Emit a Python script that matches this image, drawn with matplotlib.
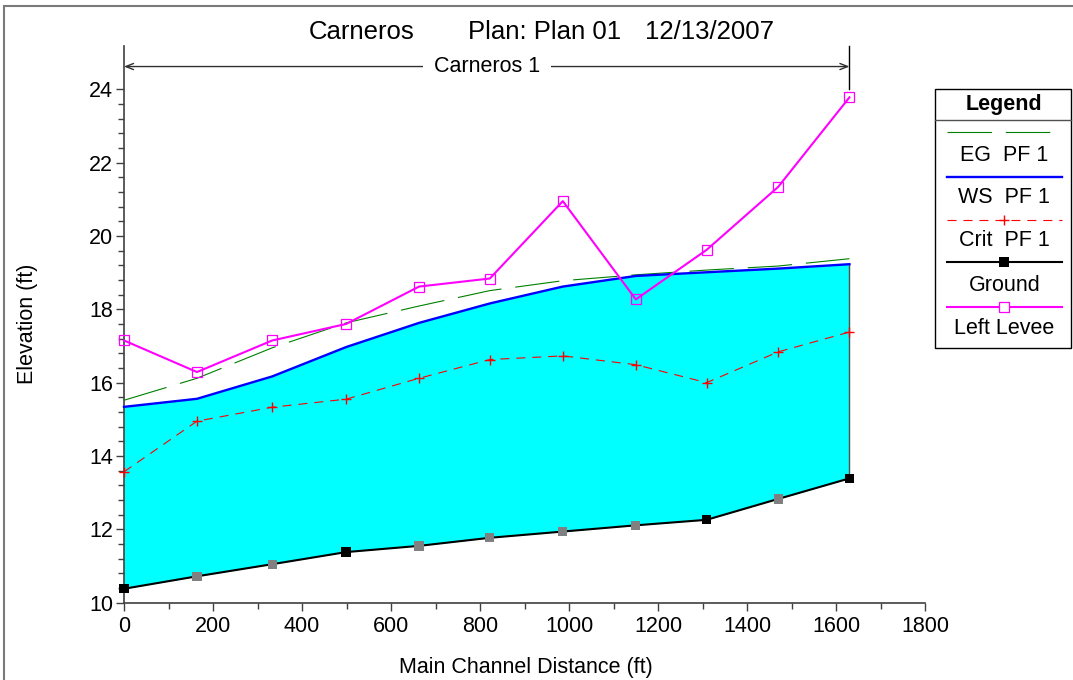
import numpy as np
import matplotlib
import matplotlib.pyplot as plt
from matplotlib.lines import Line2D
from matplotlib.patches import Rectangle

# Profile data (river station distance in ft, elevations in ft)
stations = [0, 164, 333, 499, 663, 822, 986, 1150, 1309, 1470, 1630]
eg_pf1 = [15.52, 16.12, 16.95, 17.63, 18.09, 18.51, 18.78, 18.94, 19.07, 19.18, 19.38]
ws_pf1 = [15.34, 15.56, 16.17, 16.97, 17.63, 18.16, 18.62, 18.91, 19.01, 19.11, 19.23]
crit_pf1 = [13.57, 14.95, 15.33, 15.55, 16.12, 16.63, 16.73, 16.49, 16.00, 16.84, 17.38]
ground = [10.38, 10.72, 11.05, 11.38, 11.55, 11.77, 11.94, 12.11, 12.26, 12.83, 13.39]
left_levee = [17.15, 16.29, 17.15, 17.60, 18.62, 18.84, 20.95, 18.27, 19.62, 21.34, 23.78]
# ground points drawn with a black marker (others are grey)
ground_black = [True, False, False, True, False, False, False, False, True, False, True]

reach_name = 'Carneros 1'
reach_level = 24.62
title_parts = ['Carneros', 'Plan: Plan 01', '12/13/2007']
legend_labels = ['EG  PF 1', 'WS  PF 1', 'Crit  PF 1', 'Ground', 'Left Levee']

plt.rcParams['font.family'] = ['Liberation Sans', 'DejaVu Sans']
plt.rcParams['lines.scale_dashes'] = False

W, H = 1073, 680
FS = 15.5


def px(x, y):
    # pixel position (from top-left) to figure fraction
    return x / W, 1 - y / H


fig = plt.figure(figsize=(W / 100, H / 100), dpi=100)
ax = fig.add_axes([124 / W, 1 - 602.7 / H, (925.1 - 124) / W, (602.7 - 46) / H])

# outer frame of the window
fig.add_artist(Rectangle(px(3.5, 700), 1200 / W, (700 - 5.7) / H, transform=fig.transFigure,
                         fill=False, edgecolor='#7a7a7a', lw=1.5))

ax.fill_between(stations, ground, ws_pf1, color='#00ffff', lw=0, zorder=1)
ax.plot([stations[-1], stations[-1]], [ground[-1], ws_pf1[-1]], color='#505050', lw=1, zorder=2)

eg_dash = (0, (32, 10))
crit_dash = (0, (6.5, 5))
ax.plot(stations, eg_pf1, color='#008000', lw=0.8, ls=eg_dash, zorder=3, clip_on=False)
ax.plot(stations, ws_pf1, color='#0000ff', lw=1.7, zorder=4, clip_on=False)
ax.plot(stations, crit_pf1, color='#ff0000', lw=0.8, ls=crit_dash, marker='+', ms=7,
        mew=1.0, zorder=5, clip_on=False)
ax.plot(stations, ground, color='black', lw=1.5, zorder=6, clip_on=False)
gcols = ['black' if b else '#808080' for b in ground_black]
ax.scatter(stations, ground, marker='s', s=45, c=gcols, lw=0, zorder=7, clip_on=False)
ax.plot(stations, left_levee, color='#ff00ff', lw=1.5, marker='s', ms=6.5, mfc='none',
        mew=0.9, zorder=8, clip_on=False)

# reach bracket
ax.annotate('', xy=(stations[0], reach_level), xytext=(stations[-1], reach_level),
            arrowprops=dict(arrowstyle='<->,head_length=0.55,head_width=0.22', lw=1,
                            color='#303030', shrinkA=0, shrinkB=0), zorder=9)
ax.plot([stations[-1], stations[-1]], [24.0, 25.18], color='black', lw=1, clip_on=False, zorder=9)
ax.text((stations[0] + stations[-1]) / 2, reach_level, reach_name, ha='center', va='center',
        fontsize=FS, zorder=10,
        bbox=dict(boxstyle='square,pad=0.5', fc='white', ec='none'))

ax.set_xlim(0, 1800)
ax.set_ylim(10, 25.18)
ax.set_xticks(range(0, 1801, 200))
ax.set_xticks(np.arange(0, 1801, 100), minor=True)
ax.set_yticks(range(10, 25, 2))
ax.set_yticks(np.arange(10, 24.01, 0.4), minor=True)
for s in ['top', 'right']:
    ax.spines[s].set_visible(False)
for s in ['left', 'bottom']:
    ax.spines[s].set_color('#404040')
    ax.spines[s].set_linewidth(1.2)
    ax.spines[s].set_zorder(2.5)
ax.tick_params(which='major', direction='out', length=5.8, width=1, color='#404040',
               labelsize=FS)
ax.tick_params(which='minor', direction='out', length=4, width=1, color='#404040')
ax.tick_params(axis='x', which='major', pad=4)
ax.tick_params(axis='y', which='major', pad=2)
ax.set_facecolor('none')

# title and axis labels
fig.text(*px(309, 39), title_parts[0], fontsize=18.5, ha='left', va='baseline')
fig.text(*px(468, 39), title_parts[1], fontsize=18.5, ha='left', va='baseline')
fig.text(*px(645, 39), title_parts[2], fontsize=18.5, ha='left', va='baseline')
fig.text(*px(27, 324), 'Elevation (ft)', fontsize=FS, rotation=90, ha='center', va='center')
fig.text(*px(526, 673.5), 'Main Channel Distance (ft)', fontsize=FS, ha='center', va='baseline')

# legend box drawn by hand
lx0, lx1, ly0, ly1 = 935.3, 1071, 89.3, 348.3
fig.add_artist(Rectangle(px(lx0, ly1), (lx1 - lx0) / W, (ly1 - ly0) / H,
                         transform=fig.transFigure, fill=False, ec='black', lw=1))
fig.add_artist(Line2D([lx0 / W, lx1 / W], [1 - 120 / H] * 2, transform=fig.transFigure,
                      color='#505050', lw=1))
cx = (946.7 + 1062) / 2
fig.text(*px(cx, 110), 'Legend', fontsize=FS, fontweight='bold', ha='center', va='baseline')

samples = [
    dict(color='#008000', lw=0.8, ls=eg_dash),
    dict(color='#0000ff', lw=1.7),
    dict(color='#ff0000', lw=0.8, ls=crit_dash),
    dict(color='black', lw=1.5),
    dict(color='#ff00ff', lw=1.5),
]
marks = [None, None,
         dict(marker='+', ms=7, mew=1.0, color='#ff0000'),
         dict(marker='s', ms=6.7, mew=0, color='black'),
         dict(marker='s', ms=6.5, mfc='white', mec='#ff00ff', mew=0.9)]
line_y = [132.3, 176.7, 220, 262.3, 306.7]
text_y = [160.7, 202.5, 245.8, 290.6, 333.5]
for lab, st, mk, ly, ty in zip(legend_labels, samples, marks, line_y, text_y):
    fig.add_artist(Line2D([946.7 / W, 1062 / W], [1 - ly / H] * 2, transform=fig.transFigure, **st))
    if mk:
        fig.add_artist(Line2D([cx / W], [1 - ly / H], transform=fig.transFigure, ls='none', **mk))
    fig.text(*px(cx, ty), lab, fontsize=FS, ha='center', va='baseline')

fig.savefig('out.png', dpi=100)
